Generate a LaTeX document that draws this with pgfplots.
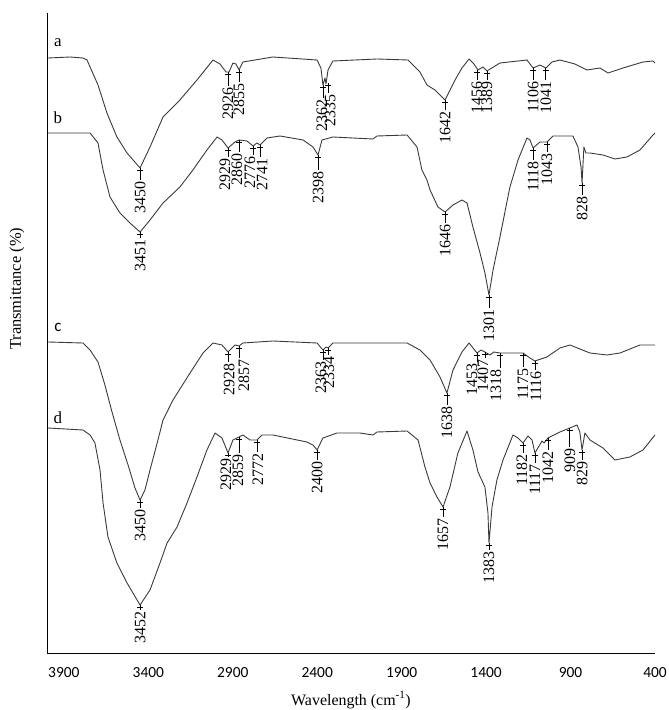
\documentclass[border=0pt]{standalone}
\usepackage{pgfplots}
\pgfplotsset{compat=1.18}
\usepackage{fontspec}
\setmainfont{Liberation Serif}
\newfontfamily\calfont{Carlito}
\definecolor{crv}{HTML}{3A3A3A}
\tikzset{pk/.style={black,line width=0.8bp},
 pkl/.style={rotate=90,anchor=east,inner sep=1pt,font=\fontsize{16}{16}\selectfont},
 spec/.style={crv,line width=0.9bp,line join=round,mark=none}}
% #1 tick wn, #2 curve y, #3 text-top y, #4 text wn, #5 label
\newcommand{\pk}[5]{%
 \draw[pk] (axis cs:#1,#2) -- (axis cs:#1,#3);
 \draw[pk] ([xshift=-3bp,yshift=-2bp]axis cs:#1,#2) -- ([xshift=3bp,yshift=-2bp]axis cs:#1,#2);
 \node[pkl] at (axis cs:#4,#3) {#5};}
\begin{document}
\begin{tikzpicture}
\begin{axis}[
 at={(47bp,57bp)}, anchor=south west,
 width=608bp, height=640bp, scale only axis,
 x dir=reverse, xmin=400, xmax=4000, ymin=0, ymax=640,
 axis x line*=bottom, axis y line*=left, axis line style={-,black,line width=0.9bp},
 xtick={400,900,...,3900}, ytick=\empty, major tick length=0pt,
 /pgf/number format/1000 sep={}, /pgf/number format/assume math mode=true,
 xticklabel style={anchor=center,yshift=-20bp,font=\calfont\fontsize{15.5}{16}\selectfont},
 xlabel={Wavelength (cm\textsuperscript{-1})},
 xlabel style={at={(axis description cs:0.5,0)},anchor=center,yshift=-47bp,font=\fontsize{16}{16}\selectfont},
 ylabel={Transmittance (\%)},
 ylabel style={at={(axis description cs:0,0.569)},anchor=center,yshift=30bp,font=\fontsize{16.5}{16.5}\selectfont},
 clip=false,
]
% curve a
\addplot[spec] coordinates {(3994,595)(3864,596)(3787,595)(3763,593)(3698,568)(3645,540)(3586,516)(3526,500)(3449,485)(3390,506)(3313,536)(3213,553)(3112,573)(3017,593)(2976,589)(2940,581)(2922,581)(2899,590)(2881,589)(2863,583)(2840,591)(2662,596)(2401,593)(2378,585)(2366,568)(2354,575)(2348,569)(2336,583)(2307,592)(2046,594)(1862,593)(1792,581)(1750,568)(1703,563)(1643,553)(1584,573)(1543,585)(1501,594)(1472,589)(1448,583)(1419,586)(1395,582)(1318,590)(1158,593)(1140,589)(1122,585)(1081,588)(1046,585)(1010,591)(963,593)(874,589)(803,583)(726,585)(678,580)(590,585)(471,591)(412,592)(400,590)};
% curve b
\addplot[spec] coordinates {(3994,520)(3745,520)(3698,510)(3668,483)(3627,456)(3568,440)(3509,430)(3449,421)(3390,433)(3313,450)(3213,466)(3136,483)(3053,503)(2993,516)(2964,513)(2928,505)(2887,511)(2863,513)(2816,512)(2780,507)(2757,510)(2739,508)(2697,515)(2620,517)(2484,513)(2425,506)(2395,498)(2372,513)(2307,516)(2070,514)(2046,517)(1868,518)(1809,506)(1780,483)(1750,473)(1732,463)(1685,446)(1643,441)(1596,448)(1543,453)(1513,450)(1478,426)(1436,400)(1407,380)(1383,358)(1359,383)(1318,416)(1259,466)(1211,493)(1158,515)(1140,513)(1122,505)(1081,511)(1040,511)(1004,517)(886,517)(856,506)(838,486)(832,470)(821,506)(809,500)(785,500)(708,498)(637,494)(566,496)(489,503)(412,518)(400,520)};
% curve c
\addplot[spec] coordinates {(3994,311)(3787,310)(3745,303)(3698,291)(3657,268)(3615,241)(3568,213)(3520,188)(3479,165)(3449,153)(3420,163)(3390,183)(3343,213)(3313,233)(3254,253)(3153,280)(3076,300)(3017,310)(2964,308)(2928,301)(2887,308)(2863,307)(2840,310)(2662,312)(2401,310)(2366,303)(2348,306)(2336,305)(2307,310)(2070,310)(1868,310)(1792,303)(1732,293)(1673,276)(1632,260)(1596,283)(1543,301)(1501,310)(1454,300)(1430,303)(1407,301)(1377,298)(1354,301)(1318,300)(1241,300)(1182,300)(1140,295)(1111,292)(1040,296)(963,305)(904,308)(785,300)(684,298)(607,300)(489,308)(400,308)};
% curve d
\addplot[spec] coordinates {(3994,225)(3787,223)(3745,218)(3716,210)(3686,183)(3668,150)(3639,116)(3586,90)(3526,70)(3449,48)(3390,63)(3331,90)(3289,110)(3230,126)(3171,150)(3112,176)(3053,203)(3005,220)(2964,215)(2928,200)(2899,213)(2863,216)(2840,218)(2798,213)(2757,213)(2727,218)(2662,218)(2461,211)(2425,208)(2401,203)(2366,215)(2283,220)(2147,220)(2070,218)(2046,221)(1868,222)(1803,213)(1762,186)(1732,170)(1691,156)(1655,146)(1614,166)(1567,200)(1513,222)(1478,203)(1448,181)(1407,166)(1389,140)(1383,110)(1365,146)(1336,173)(1300,193)(1241,218)(1211,215)(1182,210)(1152,217)(1128,213)(1111,200)(1069,212)(1057,210)(1034,215)(963,221)(904,225)(862,228)(845,221)(832,203)(815,220)(785,213)(708,205)(637,193)(549,196)(471,203)(400,218)};
% series letters
\node[font=\fontsize{17}{17}\selectfont] at (axis cs:3935,610) {a};
\node[font=\fontsize{17}{17}\selectfont] at (axis cs:3935,535) {b};
\node[font=\calfont\fontsize{17}{17}\selectfont] at (axis cs:3935,326) {c};
\node[font=\fontsize{17}{17}\selectfont] at (axis cs:3935,235) {d};
% peak labels a
\pk{3449}{485}{473}{3449}{3450}
\pk{2928}{581}{567}{2928}{2926}
\pk{2863}{583}{571}{2863}{2855}
\pk{2366}{568}{555}{2372}{2362}
\pk{2336}{570}{560}{2324}{2335}
\pk{1643}{553}{543}{1643}{1642}
\pk{1454}{583}{573}{1454}{1456}
\pk{1395}{582}{573}{1395}{1389}
\pk{1122}{585}{573}{1122}{1106}
\pk{1046}{585}{573}{1046}{1041}
% peak labels b
\pk{3449}{421}{415}{3449}{3451}
\pk{2928}{505}{496}{2946}{2929}
\pk{2863}{513}{501}{2875}{2860}
\pk{2780}{507}{498}{2798}{2776}
\pk{2739}{508}{496}{2727}{2741}
\pk{2395}{498}{483}{2395}{2398}
\pk{1643}{441}{430}{1643}{1646}
\pk{1383}{358}{345}{1383}{1301}
\pk{1122}{505}{493}{1122}{1118}
\pk{1040}{511}{501}{1040}{1043}
\pk{832}{470}{458}{832}{828}
% peak labels c
\pk{3449}{153}{145}{3449}{3450}
\pk{2928}{301}{291}{2922}{2928}
\pk{2863}{307}{295}{2834}{2857}
\pk{2366}{303}{293}{2378}{2363}
\pk{2336}{305}{298}{2330}{2334}
\pk{1632}{260}{248}{1632}{1638}
\pk{1454}{300}{291}{1484}{1453}
\pk{1407}{301}{295}{1419}{1407}
\pk{1318}{300}{285}{1342}{1318}
\pk{1182}{300}{286}{1182}{1175}
\pk{1111}{292}{283}{1105}{1116}
% peak labels d
\pk{3449}{48}{43}{3449}{3452}
\pk{2928}{200}{196}{2940}{2929}
\pk{2863}{216}{200}{2869}{2859}
\pk{2757}{213}{201}{2751}{2772}
\pk{2401}{203}{193}{2401}{2400}
\pk{1655}{146}{136}{1655}{1657}
\pk{1383}{110}{103}{1383}{1383}
\pk{1182}{210}{200}{1188}{1182}
\pk{1111}{200}{190}{1111}{1117}
\pk{1034}{215}{203}{1034}{1042}
\pk{904}{225}{206}{904}{909}
\pk{832}{203}{193}{832}{829}
\end{axis}
\pgfresetboundingbox
\useasboundingbox (0,0) rectangle (669bp,710bp);
\end{tikzpicture}
\end{document}
